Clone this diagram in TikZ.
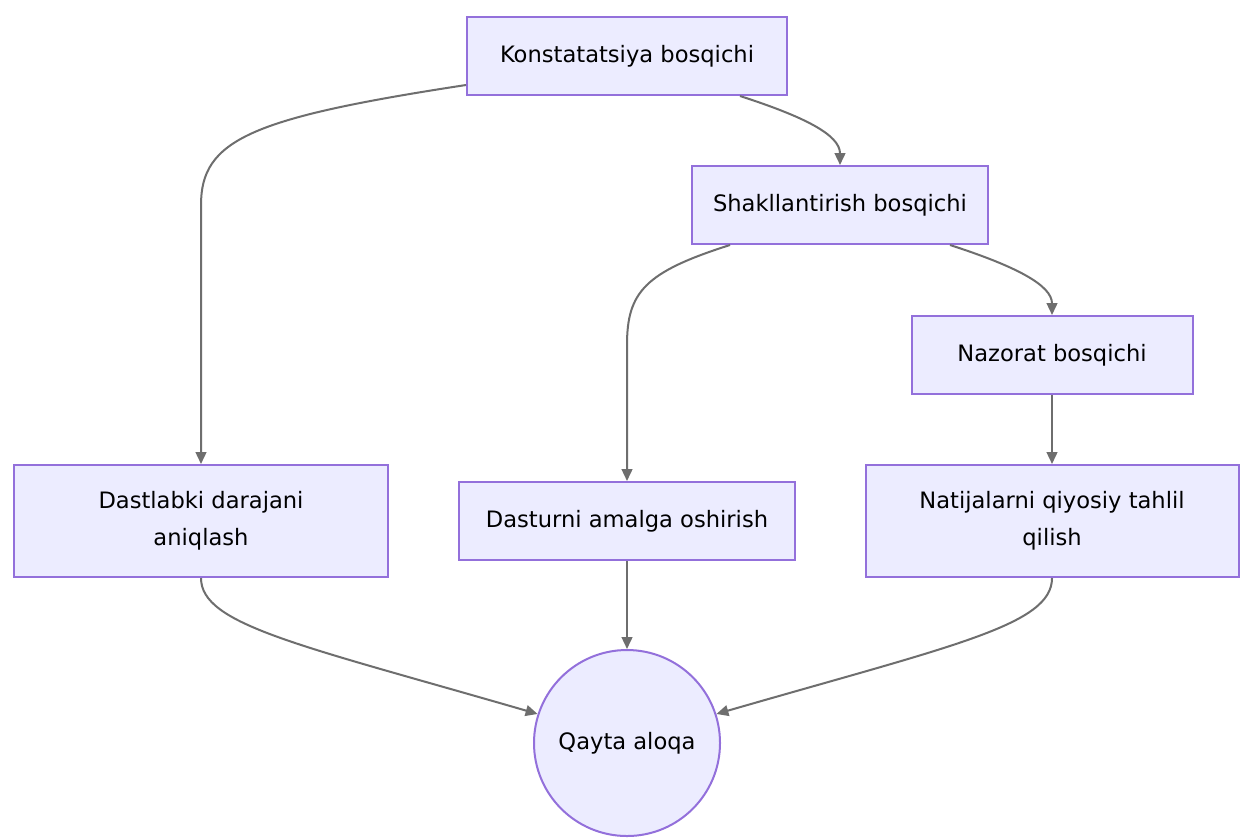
\documentclass[tikz,border=0pt]{standalone}
\usepackage{fontspec}
\setmainfont{DejaVu Sans}
\usetikzlibrary{arrows.meta}
\definecolor{mmfill}{HTML}{ECECFF}
\definecolor{mmborder}{HTML}{9370DB}
\definecolor{mmline}{HTML}{6E6E6E}
\begin{document}
\begin{tikzpicture}
          [x=0.5pt,y=-0.5pt,
           box/.style={draw=mmborder, fill=mmfill, line width=1pt, minimum height=39pt,
                       align=center, font=\fontsize{11.3pt}{18.5pt}\selectfont},
           link/.style={draw=mmline, line width=1pt, -{Triangle[length=6pt,width=5.4pt]}}]
        \useasboundingbox[fill=white] (0,0) rectangle (1256,837);

        \node[box, minimum width=160pt] (konst) at (627,56) {Konstatatsiya bosqichi};
        \node[box, minimum width=148pt] (shakl) at (840,205) {Shakllantirish bosqichi};
        \node[box, minimum width=140.5pt] (nazorat) at (1052,355) {Nazorat bosqichi};

        \node[box, minimum width=187pt, minimum height=56pt] (dastlab) at (201,521) {Dastlabki darajani\\aniqlash};
        \node[box, minimum width=168pt] (dastur) at (627,521) {Dasturni amalga oshirish};
        \node[box, minimum width=186.5pt, minimum height=56pt] (natija) at (1052,521) {Natijalarni qiyosiy tahlil\\qilish};

        \node[box, circle, minimum size=93pt] (aloqa) at (627,743) {Qayta aloqa};

        % egri bog'lanishlar
        \draw[link] ([yshift=5.5pt]konst.south west) .. controls (250,118) and (201,140) .. (201,205) -- (dastlab.north);
        \draw[link] ([xshift=56.5pt]konst.south) .. controls (805,117) and (840,135) .. (shakl.north);
        \draw[link] ([xshift=-55pt]shakl.south) .. controls (645,272) and (627,292) .. (627,345) -- (dastur.north);
        \draw[link] ([xshift=55pt]shakl.south) .. controls (1015,266) and (1052,285) .. (nazorat.north);
        \draw[link] (dastlab.south) .. controls (201,625) and (300,645) .. (aloqa.162);
        \draw[link] (natija.south) .. controls (1052,625) and (955,645) .. (aloqa.18);

        \foreach \from/\to in {nazorat/natija, dastur/aloqa}
          \draw[link] (\from) -- (\to);
      \end{tikzpicture}
\end{document}
